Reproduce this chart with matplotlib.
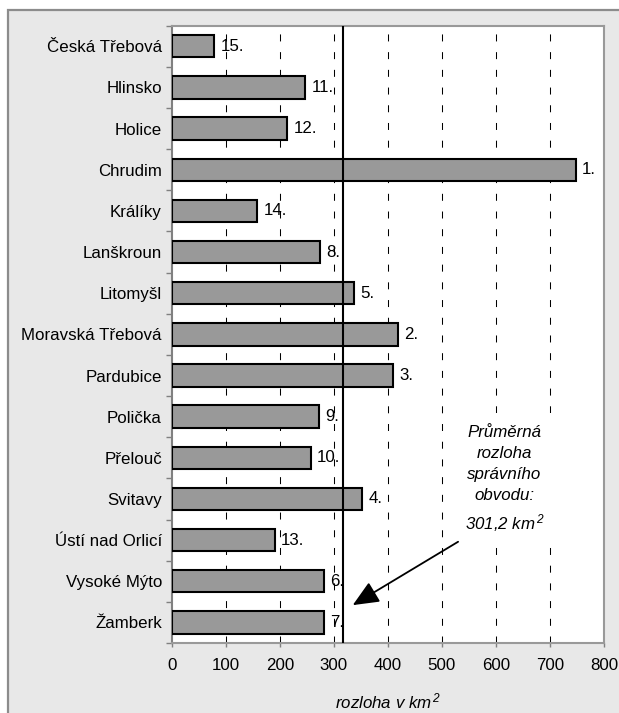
import matplotlib
matplotlib.use("Agg")
import matplotlib.pyplot as plt
from matplotlib.patches import Rectangle
import numpy as np

plt.rcParams['font.family'] = ['Liberation Sans', 'DejaVu Sans']
plt.rcParams['mathtext.fontset'] = 'custom'
plt.rcParams['mathtext.rm'] = 'Liberation Sans:italic'
plt.rcParams['mathtext.it'] = 'Liberation Sans:italic'

categories = ["Česká Třebová", "Hlinsko", "Holice", "Chrudim", "Králíky", "Lanškroun",
              "Litomyšl", "Moravská Třebová", "Pardubice", "Polička", "Přelouč", "Svitavy",
              "Ústí nad Orlicí", "Vysoké Mýto", "Žamberk"]
values = [79, 247, 214, 748, 158, 275, 337, 418, 410, 273, 257, 353, 191, 282, 281]
ranks = [15, 11, 12, 1, 14, 8, 5, 2, 3, 9, 10, 4, 13, 6, 7]
avg_line_x = 317
avg_label = "Průměrná\nrozloha\nsprávního\nobvodu:\n301,2 km$^{\\,2}$"
x_ticks = [0, 100, 200, 300, 400, 500, 600, 700, 800]

FS = 12.2
W, H = 619, 713
fig = plt.figure(figsize=(W / 100, H / 100), dpi=100)
fig.patch.set_facecolor('white')

# outer chart frame
fig.patches.append(Rectangle((8 / W, -0.02), 1.0, 1 - 10 / H + 0.02, transform=fig.transFigure,
                             facecolor='#e8e8e8', edgecolor='#8c8c8c', lw=1.6, zorder=-10))

left, right, top, bottom = 171.7, 604, 25.7, 643
ax = fig.add_axes([left / W, 1 - bottom / H, (right - left) / W, (bottom - top) / H])
ax.set_zorder(1)
ax.set_facecolor('white')

y = np.arange(len(categories))
ax.barh(y, values, height=0.545, color='#999999', edgecolor='black', linewidth=1.5, zorder=3)

for xv in x_ticks[1:-1]:
    ax.axvline(xv, color='black', lw=0.75, linestyle=(0, (6.7, 10.3)), zorder=1)

ax.axvline(avg_line_x, color='black', lw=1.5, zorder=4)

for yi, v, r in zip(y, values, ranks):
    ax.annotate(f"{r}.", (v, yi), xytext=(4.5, 0), textcoords='offset points',
                va='center', ha='left', fontsize=FS, zorder=5)

ax.set_xlim(0, 800)
ax.set_ylim(len(categories) - 0.5, -0.5)
ax.set_xticks(x_ticks)
ax.set_xticklabels([str(t) for t in x_ticks], fontsize=FS)
ax.set_yticks(y)
ax.set_yticklabels(categories, fontsize=FS)
ax.set_yticks(np.arange(len(categories) + 1) - 0.5, minor=True)
ax.tick_params(axis='y', which='major', length=0, pad=7)
ax.tick_params(axis='y', which='minor', length=4, color='#808080', width=1)
ax.tick_params(axis='x', which='major', length=3, color='#808080', width=1, pad=8)

for side in ['top', 'right', 'bottom']:
    ax.spines[side].set_color('#999999')
    ax.spines[side].set_linewidth(1.5)
ax.spines['left'].set_color('#808080')
ax.spines['left'].set_linewidth(1.5)

ax.set_xlabel("rozloha v km$^{\\,2}$", fontsize=FS, style='italic', labelpad=13)

# white box behind annotation text (covers gridlines)
ax.add_patch(Rectangle((515, 8.91), 205, 3.26, facecolor='white', edgecolor='none', zorder=2))

ax.annotate("", xy=(335, 13.58), xytext=(530, 12.04),
            arrowprops=dict(arrowstyle='-|>,head_length=1.6,head_width=0.7', color='black', lw=1.3,
                            shrinkA=0, shrinkB=0), zorder=6)
ax.text(616, 10.53, avg_label, ha='center', va='center', fontsize=FS, style='italic',
        linespacing=1.5, zorder=6)

fig.savefig("out.png", dpi=100)
